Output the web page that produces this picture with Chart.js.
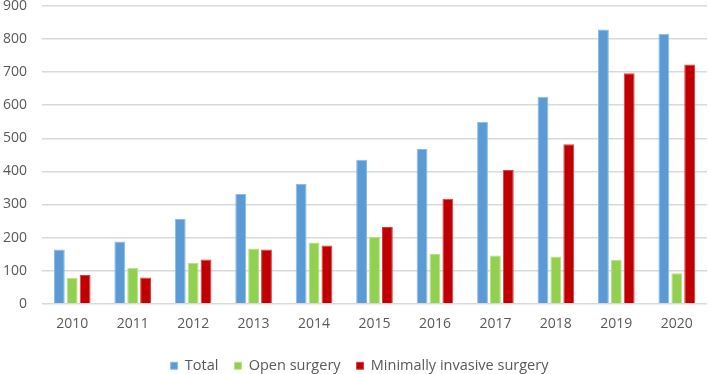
<!DOCTYPE html>
<html>
<head>
<meta charset="utf-8">
<script src="https://cdn.jsdelivr.net/npm/chart.js@4"></script>
<style>
    html, body { margin: 0; padding: 0; background: #fff; }
    #wrap { width: 709px; height: 374px; }
</style>
</head>
<body>
<div id="wrap"><canvas id="chart"></canvas></div>
<script>
const years = ['2010', '2011', '2012', '2013', '2014', '2015', '2016', '2017', '2018', '2019', '2020'];
const total = [164, 188, 256, 332, 362, 435, 468, 550, 626, 829, 816];
const openSurgery = [78, 109, 124, 167, 185, 202, 150, 146, 143, 133, 92];
const minimallyInvasive = [87, 79, 134, 164, 176, 232, 317, 404, 482, 697, 723];

const textColor = '#595959';
const fontFamily = '"Open Sans", sans-serif';

function barSet(label, data, color, edge) {
    return {
        label: label,
        data: data,
        backgroundColor: color,
        borderColor: edge,
        borderWidth: 1,
        categoryPercentage: 0.64,
        barPercentage: 0.84
    };
}

// nudge the legend box so it lines up with the original
const legendTighten = {
    id: 'legendTighten',
    beforeInit(chart) {
        const legend = chart.legend;
        const fit = legend.fit;
        const draw = legend.draw;
        legend.fit = function () {
            fit.call(legend);
            legend.height += 3;
        };
        legend.draw = function () {
            chart.ctx.save();
            chart.ctx.translate(6, 6);
            draw.call(legend);
            chart.ctx.restore();
        };
    }
};

new Chart(document.getElementById('chart'), {
    type: 'bar',
    data: {
        labels: years,
        datasets: [
            barSet('Total', total, '#5B9BD5', '#8cbbe6'),
            barSet('Open surgery', openSurgery, '#92D050', '#b5e289'),
            barSet('Minimally invasive surgery', minimallyInvasive, '#C00000', '#d84040')
        ]
    },
    plugins: [legendTighten],
    options: {
        responsive: true,
        maintainAspectRatio: false,
        animation: false,
        layout: { padding: { top: 6, right: 2, left: 0, bottom: -6 } },
        plugins: {
            legend: {
                position: 'bottom',
                labels: {
                    color: textColor,
                    font: { family: fontFamily, size: 14.5 },
                    boxWidth: 7,
                    boxHeight: 7,
                    padding: 16
                }
            },
            tooltip: { enabled: false }
        },
        scales: {
            x: {
                grid: { display: false },
                border: { display: false },
                ticks: { color: textColor, font: { family: fontFamily, size: 14 }, padding: 4 }
            },
            y: {
                min: 0,
                max: 900,
                afterFit(scale) {
                    scale.width = 42;
                    scale.paddingTop = 0;
                },
                ticks: { stepSize: 100, color: textColor, font: { family: fontFamily, size: 14 }, padding: 15 },
                grid: { color: '#d9d9d9', lineWidth: 1.5, drawTicks: false },
                border: { display: false }
            }
        }
    }
});
</script>
</body>
</html>
